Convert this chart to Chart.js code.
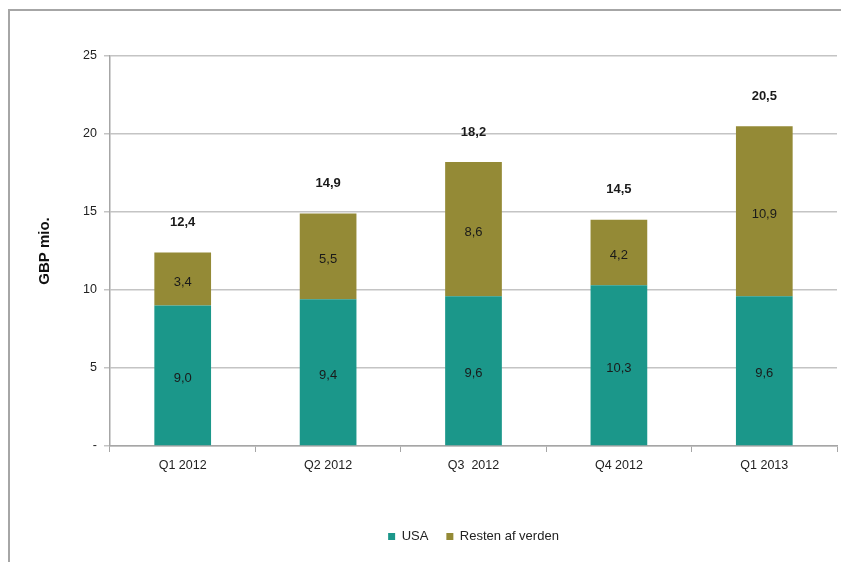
<!DOCTYPE html>
<html>
<head>
<meta charset="utf-8">
<script src="https://cdn.jsdelivr.net/npm/chart.js@4/dist/chart.umd.min.js"></script>
<style>
    body { margin: 0; background: #fff; }
    #wrap { position: absolute; left: 0; top: 0; width: 841px; height: 562px; }
    #frame { position: absolute; left: 8px; top: 9px; width: 900px; height: 600px;
        border-top: 2px solid #a6a6a6; border-left: 2px solid #a6a6a6; pointer-events: none; }
</style>
</head>
<body>
<div id="wrap">
    <canvas id="chart" width="841" height="562"></canvas>
</div>
<div id="frame"></div>
<script>
const quarters = ['Q1 2012', 'Q2 2012', 'Q3  2012', 'Q4 2012', 'Q1 2013'];
const usa = [9.0, 9.4, 9.6, 10.3, 9.6];
const restOfWorld = [3.4, 5.5, 8.6, 4.2, 10.9];
const totals = [12.4, 14.9, 18.2, 14.5, 20.5];
const yTicks = [0, 5, 10, 15, 20, 25];

const fmt = v => v.toFixed(1).replace('.', ',');
const FONT = '"Liberation Sans", Arial, sans-serif';

// draws the value inside each segment and the total above each stack
const labelPlugin = {
    id: 'barLabels',
    afterLayout(chart) {
        // legend in the original is centred under the plot area, not the canvas
        chart.legend.left = chart.chartArea.left;
        chart.legend.right = chart.chartArea.right;
    },
    afterDatasetsDraw(chart) {
        const ctx = chart.ctx;
        ctx.save();
        ctx.textAlign = 'center';
        ctx.textBaseline = 'middle';
        ctx.fillStyle = '#1a1a1a';
        ctx.font = '13px ' + FONT;
        chart.data.datasets.forEach((ds, i) => {
            chart.getDatasetMeta(i).data.forEach((bar, j) => {
                const mid = (bar.y + bar.base) / 2;
                ctx.fillText(fmt(ds.data[j]), bar.x, mid + 3);
            });
        });
        ctx.font = 'bold 13px ' + FONT;
        const yScale = chart.scales.y;
        chart.getDatasetMeta(0).data.forEach((bar, j) => {
            ctx.fillText(fmt(totals[j]), bar.x, yScale.getPixelForValue(totals[j]) - 30);
        });
        ctx.restore();
    }
};

new Chart(document.getElementById('chart'), {
    type: 'bar',
    data: {
        labels: quarters,
        datasets: [{
            label: 'USA',
            data: usa,
            backgroundColor: '#1b978a',
            categoryPercentage: 1,
            barPercentage: 0.39
        }, {
            label: 'Resten af verden',
            data: restOfWorld,
            backgroundColor: '#948a36',
            categoryPercentage: 1,
            barPercentage: 0.39
        }]
    },
    options: {
        responsive: false,
        animation: false,
        layout: { padding: { top: 56, right: 4, left: 0, bottom: 9 } },
        plugins: {
            legend: {
                position: 'bottom',
                labels: {
                    boxWidth: 7,
                    boxHeight: 7,
                    padding: 18,
                    color: '#222',
                    font: { size: 13, family: FONT }
                }
            },
            tooltip: { enabled: false }
        },
        scales: {
            x: {
                stacked: true,
                grid: { offset: true, drawOnChartArea: false, tickLength: 6, color: '#a6a6a6' },
                border: { color: '#a6a6a6', width: 1.5 },
                ticks: { color: '#222', padding: 6, font: { size: 12.5, family: FONT } },
                afterFit: s => { s.height = 66; }
            },
            y: {
                stacked: true,
                min: 0,
                max: 25,
                afterBuildTicks: s => { s.ticks = yTicks.map(v => ({ value: v })); },
                grid: { color: '#c4c4c4', lineWidth: 1.5, tickLength: 6 },
                border: { color: '#a6a6a6', width: 1.5 },
                ticks: {
                    color: '#222',
                    padding: 7,
                    font: { size: 12.5, family: FONT },
                    callback: v => v === 0 ? '-' : v
                },
                title: {
                    display: true,
                    text: 'GBP mio.',
                    color: '#111',
                    font: { size: 15, weight: 'bold', family: FONT },
                    padding: { top: 36, bottom: 0 }
                },
                afterFit: s => { s.width = 110; }
            }
        }
    },
    plugins: [labelPlugin]
});
</script>
</body>
</html>
